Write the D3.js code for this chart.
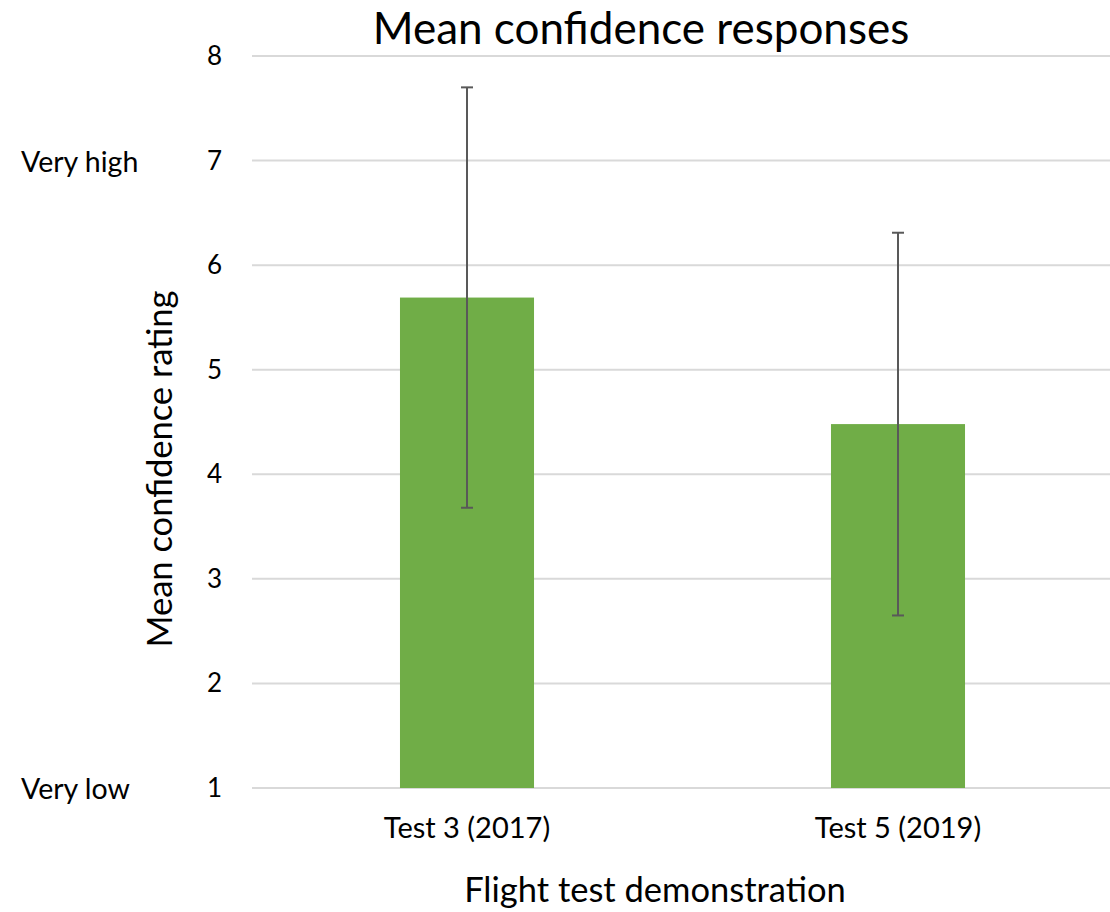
<!DOCTYPE html>
<html><head><meta charset="utf-8">
<script src="https://cdn.jsdelivr.net/npm/d3@7"></script>
<style>body{margin:0;background:#fff}svg{display:block;font-family:Lato,"Open Sans",sans-serif}</style>
</head><body><svg id="c" width="1110" height="912"></svg>
<script>
const categories = ["Test 3 (2017)", "Test 5 (2019)"];
const means = [5.69, 4.48];
const errors = [2.01, 1.83];
const yTicks = [1, 2, 3, 4, 5, 6, 7, 8];
const anchorLabels = [{v: 7, t: "Very high"}, {v: 1, t: "Very low"}];

const svg = d3.select("#c");
const x = d3.scaleBand().domain(categories).range([251.5, 1113.5]).paddingInner(0.689).paddingOuter(0.3445);
const y = d3.scaleLinear().domain([1, 8]).range([788, 56]);

svg.append("g").selectAll("line").data(yTicks).join("line")
  .attr("x1", 252).attr("x2", 1110)
  .attr("y1", d => y(d)).attr("y2", d => y(d))
  .attr("stroke", "#d9d9d9").attr("stroke-width", 2);

svg.append("g").selectAll("text").data(yTicks).join("text")
  .attr("x", 222).attr("y", d => y(d) + 9).attr("text-anchor", "end")
  .attr("font-size", 26).attr("fill", "#000").text(d => d);

svg.append("g").selectAll("text").data(anchorLabels).join("text")
  .attr("x", 21).attr("y", d => y(d.v) + 11).attr("font-size", 28.5).attr("fill", "#000").text(d => d.t);

svg.append("g").selectAll("rect").data(categories).join("rect")
  .attr("x", d => x(d)).attr("width", x.bandwidth())
  .attr("y", (d, i) => y(means[i])).attr("height", (d, i) => y(1) - y(means[i]))
  .attr("fill", "#70ad47");

const eb = svg.append("g").attr("stroke", "#595959").attr("stroke-width", 2);
categories.forEach((c, i) => {
  const cx = x(c) + x.bandwidth() / 2;
  const hi = y(means[i] + errors[i]), lo = y(means[i] - errors[i]);
  eb.append("line").attr("x1", cx).attr("x2", cx).attr("y1", hi).attr("y2", lo);
  eb.append("line").attr("x1", cx - 6).attr("x2", cx + 6).attr("y1", hi).attr("y2", hi);
  eb.append("line").attr("x1", cx - 6).attr("x2", cx + 6).attr("y1", lo).attr("y2", lo);
});

svg.append("g").selectAll("text").data(categories).join("text")
  .attr("x", d => x(d) + x.bandwidth() / 2).attr("y", 838).attr("text-anchor", "middle")
  .attr("font-size", 29).attr("fill", "#000").text(d => d);

svg.append("text").attr("x", 641).attr("y", 44).attr("text-anchor", "middle")
  .attr("font-size", 44).attr("fill", "#000").text("Mean confidence responses");

svg.append("text").attr("x", 655).attr("y", 902).attr("text-anchor", "middle")
  .attr("font-size", 34.5).attr("fill", "#000").text("Flight test demonstration");

svg.append("text").attr("transform", "translate(172,469) rotate(-90)").attr("text-anchor", "middle")
  .attr("font-size", 34.5).attr("fill", "#000").text("Mean confidence rating");
</script></body></html>
